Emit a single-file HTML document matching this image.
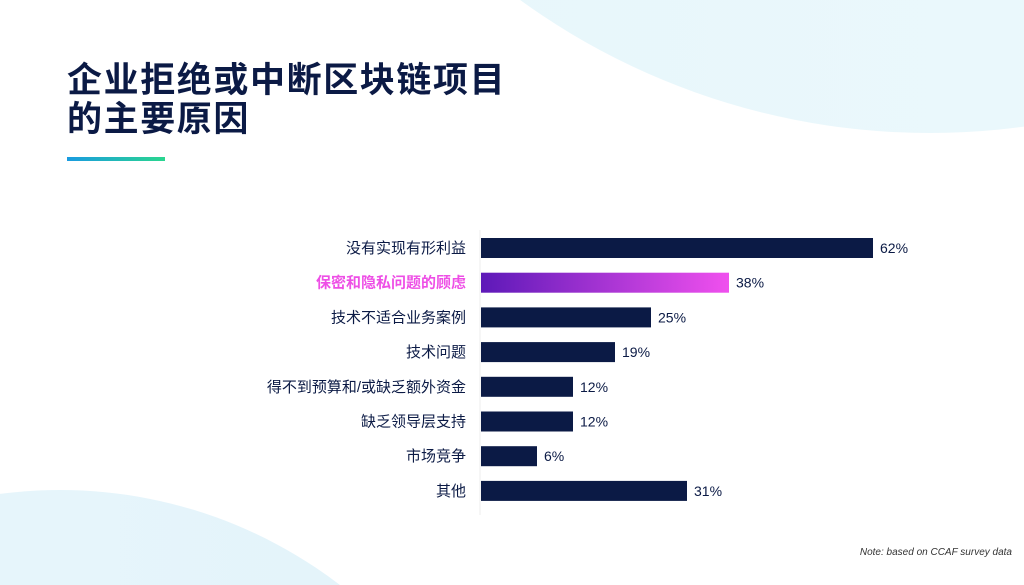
<!DOCTYPE html>
<html><head><meta charset="utf-8"><style>
html,body{margin:0;padding:0;width:1024px;height:585px;overflow:hidden}
body{background:#fff;font-family:"Liberation Sans","Noto Sans CJK SC",sans-serif;position:relative}
.t{position:absolute;left:67px;top:61px;font-size:35px;font-weight:bold;color:#0b1a45;line-height:39px;margin:0;letter-spacing:1.6px}
</style></head><body>
<svg width="1024" height="585" style="position:absolute;left:0;top:0;display:block">
<defs>
<linearGradient id="bg1" x1="0" x2="1"><stop offset="0" stop-color="#e6f6fb"/><stop offset="1" stop-color="#eef9fc"/></linearGradient>
<linearGradient id="bg2" x1="0" x2="1"><stop offset="0" stop-color="#eaf7fc"/><stop offset="1" stop-color="#e2f3fa"/></linearGradient>
<linearGradient id="ul" x1="0" x2="1"><stop offset="0" stop-color="#1a9be0"/><stop offset="1" stop-color="#2ad68f"/></linearGradient>
<linearGradient id="hl" x1="0" x2="1"><stop offset="0" stop-color="#5d19b8"/><stop offset="1" stop-color="#f050ee"/></linearGradient>
</defs>
<circle cx="930" cy="-565" r="698" fill="url(#bg1)"/>
<circle cx="60" cy="950" r="460" fill="url(#bg2)"/>
<rect x="67" y="157" width="98" height="4" fill="url(#ul)"/>
<g id="chart"></g>
</svg>
<h1 class="t">企业拒绝或中断区块链项目<br>的主要原因</h1>
<div style="position:absolute;right:12px;top:547px;font-size:10px;font-style:italic;color:#333">Note: based on CCAF survey data</div>
<script>
const categories=["没有实现有形利益","保密和隐私问题的顾虑","技术不适合业务案例","技术问题","得不到预算和/或缺乏额外资金","缺乏领导层支持","市场竞争","其他"];
const values=[62,38,25,19,12,12,6,31];
const highlight=[false,true,false,false,false,false,false,false];
const g=document.getElementById('chart');
const NS='http://www.w3.org/2000/svg';
const x0=481,y0=248,step=34.7,bh=20;
const xs=v=>x0+20+v*6.0;
const ys=i=>y0+i*step;
const ax=document.createElementNS(NS,'line');


ax.setAttribute('x1',480);ax.setAttribute('x2',480);ax.setAttribute('y1',230);ax.setAttribute('y2',515);
ax.setAttribute('stroke','#eeeeee');ax.setAttribute('stroke-width','1');g.appendChild(ax);
categories.forEach((c,i)=>{
const r=document.createElementNS(NS,'rect');


r.setAttribute('x',x0);r.setAttribute('y',ys(i)-bh/2);r.setAttribute('width',xs(values[i])-x0);r.setAttribute('height',bh);
r.setAttribute('fill',highlight[i]?'url(#hl)':'#0b1a45');g.appendChild(r);
const l=document.createElementNS(NS,'text');


l.setAttribute('x',466);l.setAttribute('y',ys(i)+5);l.setAttribute('text-anchor','end');
l.setAttribute('font-size','15');l.setAttribute('fill',highlight[i]?'#ee4fe6':'#0b1a45');
if(highlight[i])l.setAttribute('font-weight','bold');
l.textContent=c;g.appendChild(l);
const v=document.createElementNS(NS,'text');


v.setAttribute('x',xs(values[i])+7);v.setAttribute('y',ys(i)+5);
v.setAttribute('font-size','14');v.setAttribute('fill','#0b1a45');
v.textContent=values[i]+'%';g.appendChild(v);
});
</script>
</body></html>
